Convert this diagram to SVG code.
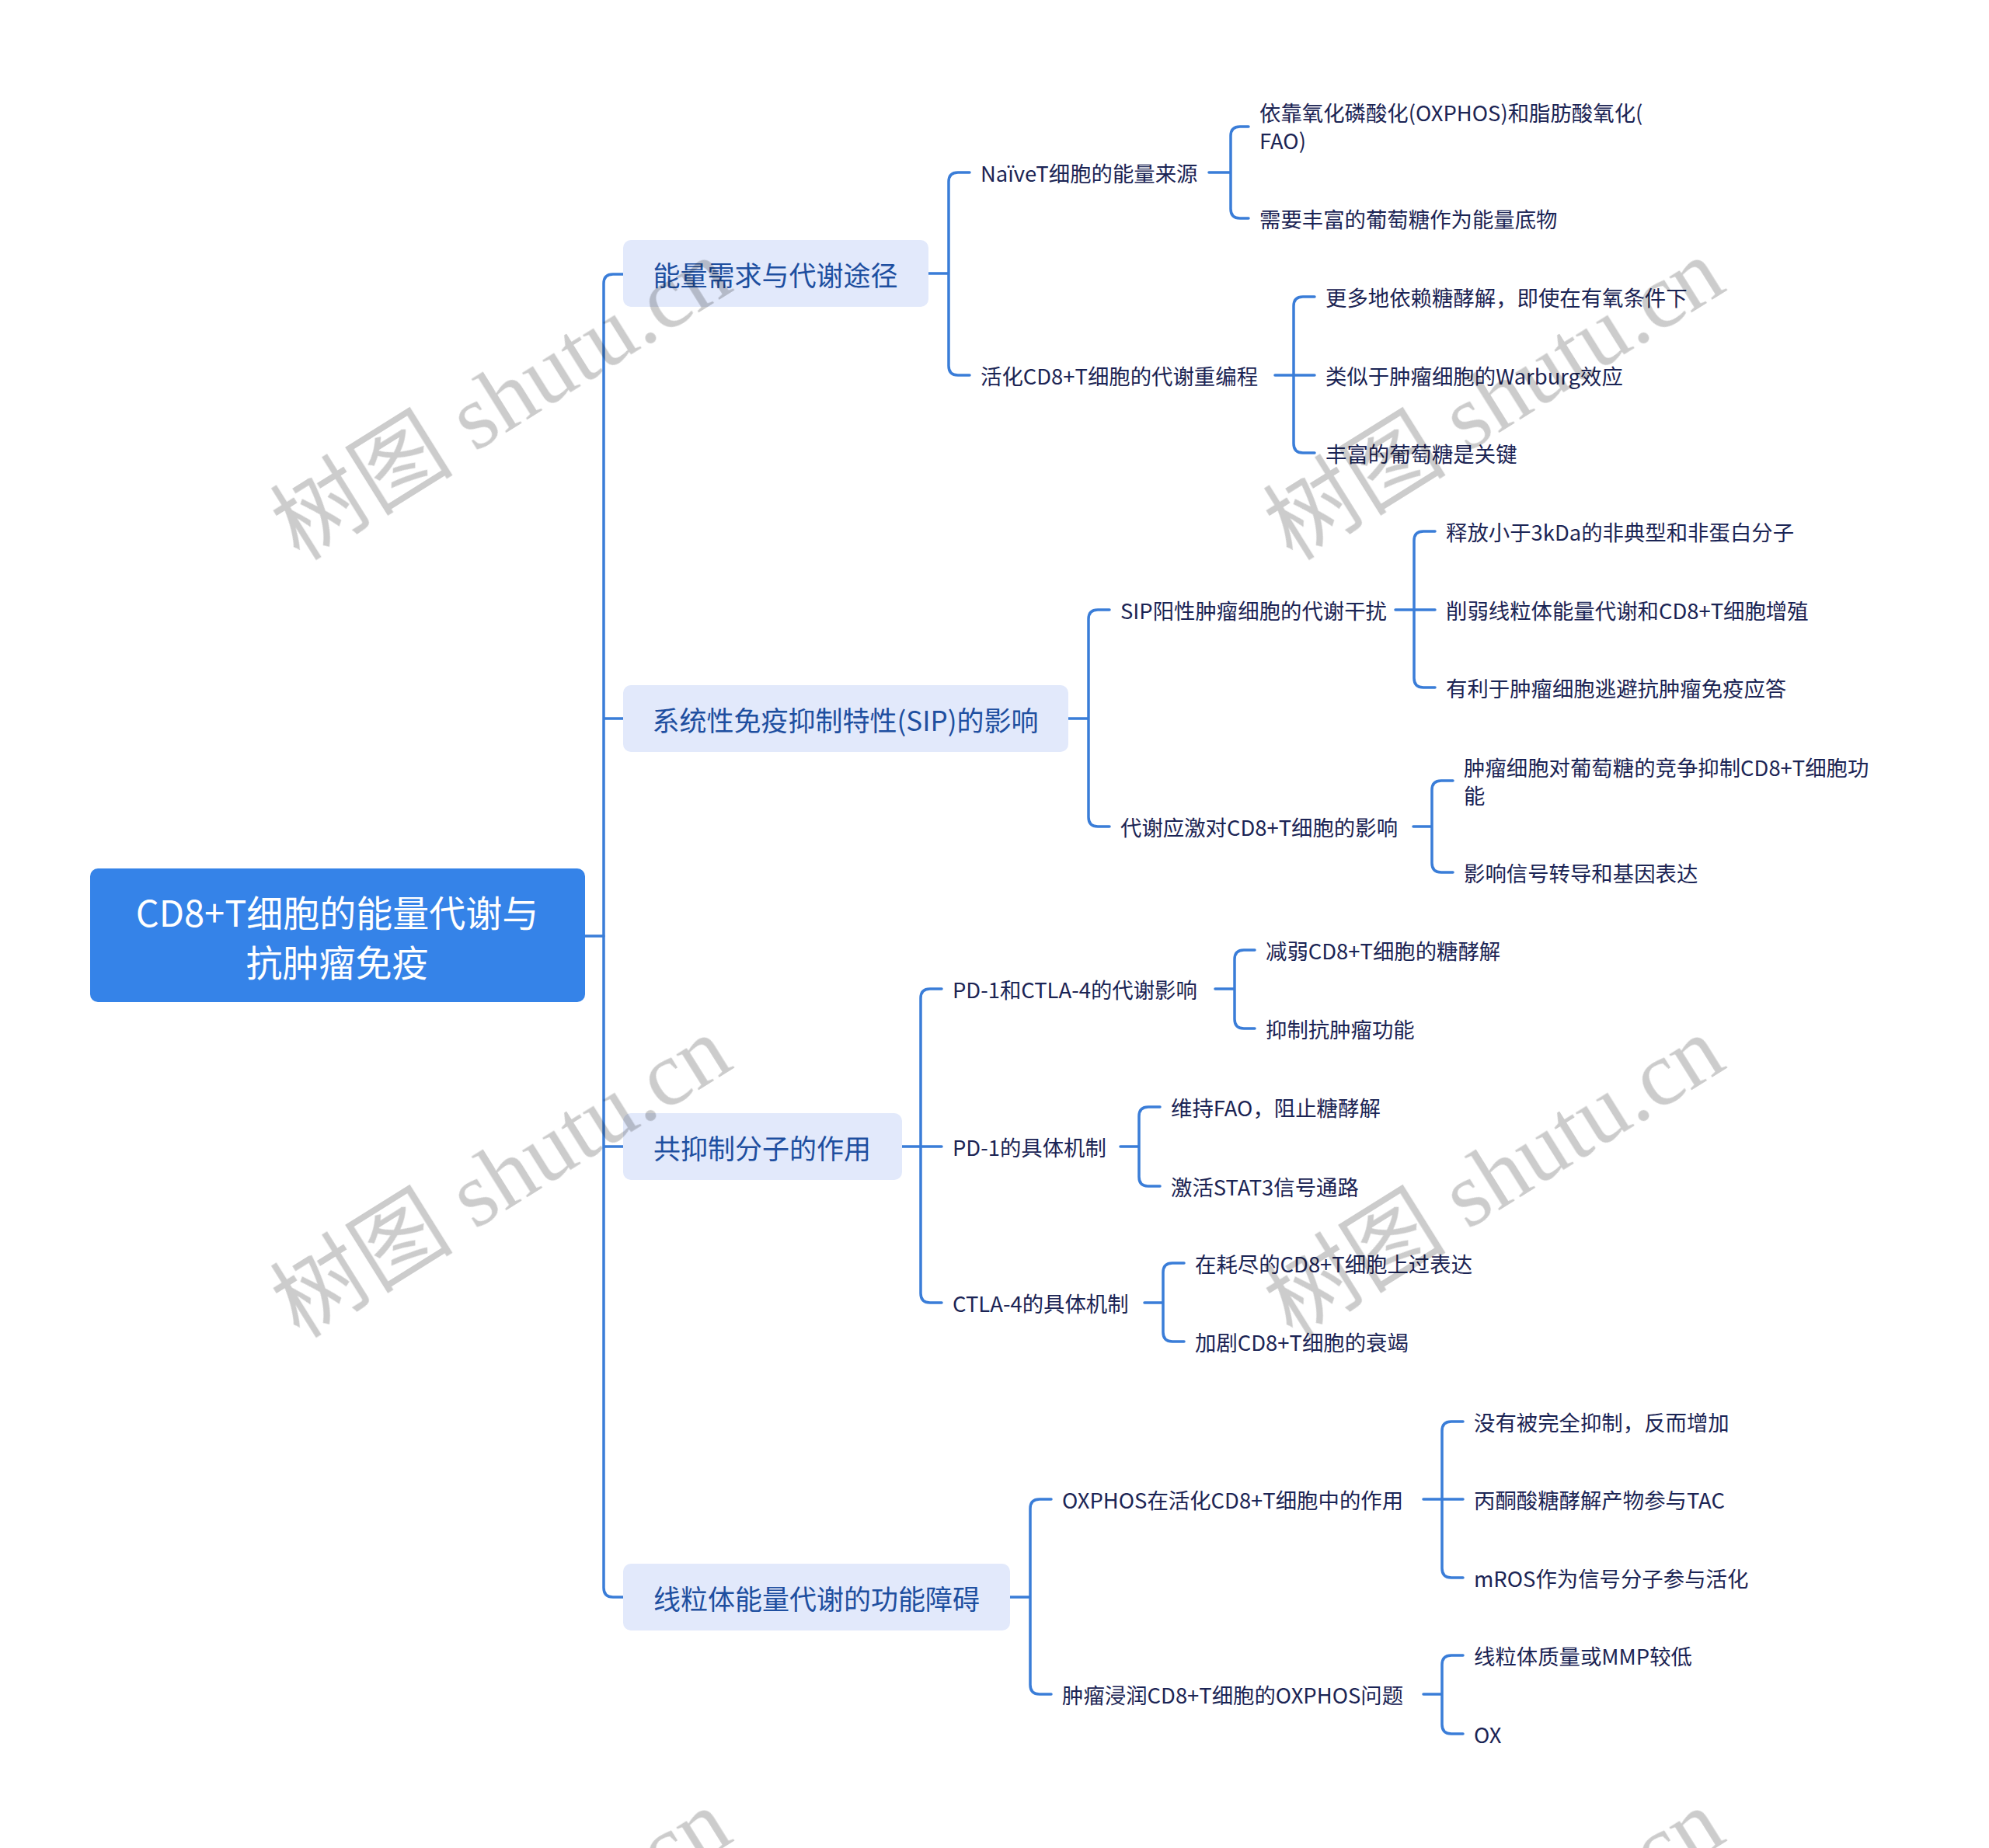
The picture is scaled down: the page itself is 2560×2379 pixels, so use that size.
<svg xmlns="http://www.w3.org/2000/svg" width="2560" height="2379" viewBox="0 0 2560 2379">
<style>
.root{fill:#3583E8}
.rt{fill:#fff;font-family:"Noto Sans CJK SC","Noto Sans",sans-serif;font-size:47px;text-anchor:middle;dominant-baseline:central}
.l1{fill:#E2E9FB}
.t1{fill:#1E4FA0;font-family:"Noto Sans CJK SC","Noto Sans",sans-serif;font-size:35px;text-anchor:middle;dominant-baseline:central}
.t2{fill:#1B2454;font-family:"Noto Sans CJK SC","Noto Sans",sans-serif;font-size:27.4px;dominant-baseline:central}
.ln{fill:none;stroke:#3A7DD8;stroke-width:3.5;stroke-linecap:round;stroke-linejoin:round}
.wm{fill:#000;opacity:0.2;font-family:"Liberation Serif","Noto Sans CJK SC",serif;font-size:118px;text-anchor:middle;dominant-baseline:central}
</style>
<rect width="2560" height="2379" fill="#fff"/>
<g id="connectors" class="ln">
<path d="M753 1205H777"/>
<path d="M802 353H789Q777 353 777 365V2044Q777 2056 789 2056H802M777 925H802M777 1476H802"/>
<path d="M1195 352H1221M1248 222H1233Q1221 222 1221 234V471Q1221 483 1233 483H1248"/>
<path d="M1556 222H1584M1607 163H1596Q1584 163 1584 175V269Q1584 281 1596 281H1607"/>
<path d="M1641 483H1665M1692 382H1677Q1665 382 1665 394V571Q1665 583 1677 583H1692M1665 483H1692"/>
<path d="M1375 925H1401M1428 785H1413Q1401 785 1401 797V1052Q1401 1064 1413 1064H1428"/>
<path d="M1796 785H1820M1847 684H1832Q1820 684 1820 696V873Q1820 885 1832 885H1847M1820 785H1847"/>
<path d="M1819 1064H1843M1870 1005H1855Q1843 1005 1843 1017V1111Q1843 1123 1855 1123H1870"/>
<path d="M1161 1476H1185M1212 1273H1197Q1185 1273 1185 1285V1665Q1185 1677 1197 1677H1212M1185 1476H1212"/>
<path d="M1564 1273H1589M1615 1223H1601Q1589 1223 1589 1235V1312Q1589 1324 1601 1324H1615"/>
<path d="M1442 1476H1466M1493 1425H1478Q1466 1425 1466 1437V1515Q1466 1527 1478 1527H1493"/>
<path d="M1473 1677H1497M1524 1626H1509Q1497 1626 1497 1638V1715Q1497 1727 1509 1727H1524"/>
<path d="M1300 2056H1326M1353 1930H1338Q1326 1930 1326 1942V2169Q1326 2181 1338 2181H1353"/>
<path d="M1832 1930H1856M1883 1830H1868Q1856 1830 1856 1842V2019Q1856 2031 1868 2031H1883M1856 1930H1883"/>
<path d="M1832 2181H1856M1883 2131H1868Q1856 2131 1856 2143V2220Q1856 2232 1868 2232H1883"/>
</g>
<g id="root"><rect class="root" x="116" y="1118" width="637" height="172" rx="10"/><text class="rt" x="434" y="1172">CD8+T细胞的能量代谢与</text><text class="rt" x="434" y="1236">抗肿瘤免疫</text></g>
<g id="b1"><rect class="l1" x="802" y="309" width="393" height="86" rx="10"/><text class="t1" x="998" y="352">能量需求与代谢途径</text></g>
<g id="b2"><rect class="l1" x="802" y="882" width="573" height="86" rx="10"/><text class="t1" x="1088" y="925">系统性免疫抑制特性(SIP)的影响</text></g>
<g id="b3"><rect class="l1" x="802" y="1433" width="359" height="86" rx="10"/><text class="t1" x="981" y="1476">共抑制分子的作用</text></g>
<g id="b4"><rect class="l1" x="802" y="2013" width="498" height="86" rx="10"/><text class="t1" x="1051" y="2056">线粒体能量代谢的功能障碍</text></g>
<g id="n11"><text class="t2" x="1262" y="222">NaïveT细胞的能量来源</text></g>
<g id="n111"><text class="t2" x="1621" y="144">依靠氧化磷酸化(OXPHOS)和脂肪酸氧化(</text><text class="t2" x="1621" y="180">FAO)</text></g>
<g id="n112"><text class="t2" x="1621" y="281">需要丰富的葡萄糖作为能量底物</text></g>
<g id="n12"><text class="t2" x="1262" y="483">活化CD8+T细胞的代谢重编程</text></g>
<g id="n121"><text class="t2" x="1706" y="382">更多地依赖糖酵解，即使在有氧条件下</text></g>
<g id="n122"><text class="t2" x="1706" y="483">类似于肿瘤细胞的Warburg效应</text></g>
<g id="n123"><text class="t2" x="1706" y="583">丰富的葡萄糖是关键</text></g>
<g id="n21"><text class="t2" x="1442" y="785">SIP阳性肿瘤细胞的代谢干扰</text></g>
<g id="n211"><text class="t2" x="1861" y="684">释放小于3kDa的非典型和非蛋白分子</text></g>
<g id="n212"><text class="t2" x="1861" y="785">削弱线粒体能量代谢和CD8+T细胞增殖</text></g>
<g id="n213"><text class="t2" x="1861" y="885">有利于肿瘤细胞逃避抗肿瘤免疫应答</text></g>
<g id="n22"><text class="t2" x="1442" y="1064">代谢应激对CD8+T细胞的影响</text></g>
<g id="n221"><text class="t2" x="1884" y="987">肿瘤细胞对葡萄糖的竞争抑制CD8+T细胞功</text><text class="t2" x="1884" y="1023">能</text></g>
<g id="n222"><text class="t2" x="1884" y="1123">影响信号转导和基因表达</text></g>
<g id="n31"><text class="t2" x="1226" y="1273">PD-1和CTLA-4的代谢影响</text></g>
<g id="n311"><text class="t2" x="1629" y="1223">减弱CD8+T细胞的糖酵解</text></g>
<g id="n312"><text class="t2" x="1629" y="1324">抑制抗肿瘤功能</text></g>
<g id="n32"><text class="t2" x="1226" y="1476">PD-1的具体机制</text></g>
<g id="n321"><text class="t2" x="1507" y="1425">维持FAO，阻止糖酵解</text></g>
<g id="n322"><text class="t2" x="1507" y="1527">激活STAT3信号通路</text></g>
<g id="n33"><text class="t2" x="1226" y="1677">CTLA-4的具体机制</text></g>
<g id="n331"><text class="t2" x="1538" y="1626">在耗尽的CD8+T细胞上过表达</text></g>
<g id="n332"><text class="t2" x="1538" y="1727">加剧CD8+T细胞的衰竭</text></g>
<g id="n41"><text class="t2" x="1367" y="1930">OXPHOS在活化CD8+T细胞中的作用</text></g>
<g id="n411"><text class="t2" x="1897" y="1830">没有被完全抑制，反而增加</text></g>
<g id="n412"><text class="t2" x="1897" y="1930">丙酮酸糖酵解产物参与TAC</text></g>
<g id="n413"><text class="t2" x="1897" y="2031">mROS作为信号分子参与活化</text></g>
<g id="n42"><text class="t2" x="1367" y="2181">肿瘤浸润CD8+T细胞的OXPHOS问题</text></g>
<g id="n421"><text class="t2" x="1897" y="2131">线粒体质量或MMP较低</text></g>
<g id="n422"><text class="t2" x="1897" y="2232">OX</text></g>
<g id="watermarks" class="wm">
<text transform="translate(645 514) rotate(-32)">树图 shutu.cn</text>
<text transform="translate(1923 514) rotate(-32)">树图 shutu.cn</text>
<text transform="translate(645 1515) rotate(-32)">树图 shutu.cn</text>
<text transform="translate(1923 1515) rotate(-32)">树图 shutu.cn</text>
<text transform="translate(645 2510) rotate(-32)">树图 shutu.cn</text>
<text transform="translate(1923 2510) rotate(-32)">树图 shutu.cn</text>
</g>
</svg>
